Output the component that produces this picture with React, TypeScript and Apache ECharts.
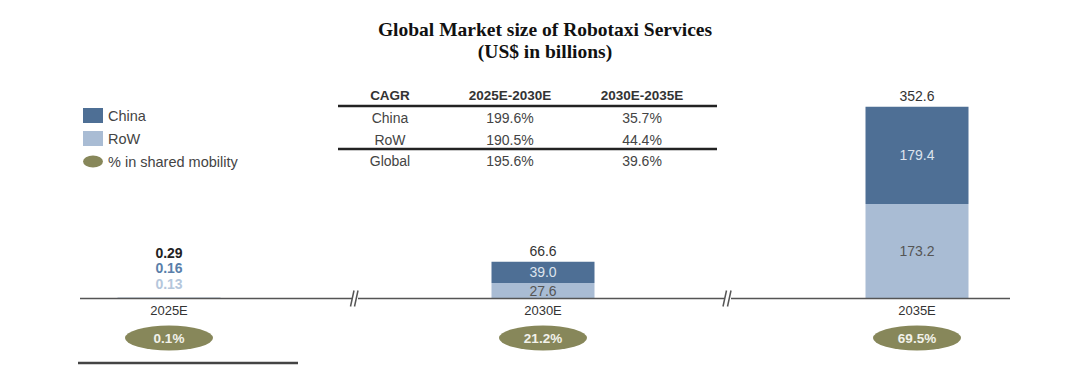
import React, { useEffect, useRef } from "react";
import * as echarts from "echarts";

const categories = ["2025E", "2030E", "2035E"];
const rowValues = [0.13, 27.6, 173.2];
const chinaValues = [0.16, 39.0, 179.4];
const totals = [0.29, 66.6, 352.6];
const sharedMobility = ["0.1%", "21.2%", "69.5%"];

const cagrHeader = ["CAGR", "2025E-2030E", "2030E-2035E"];
const cagrRows = [
  ["China", "199.6%", "35.7%"],
  ["RoW", "190.5%", "44.4%"],
  ["Global", "195.6%", "39.6%"],
];

const CHINA = "#4e6f95";
const ROW = "#a9bcd4";
const OLIVE = "#87875a";
const FONT = "'Liberation Sans', Arial, sans-serif";
const ELLIPSE = "path://M-44,0a44,12.5 0 1,0 88,0a44,12.5 0 1,0 -88,0z";
const LEGEND_ELLIPSE = "path://M-10,0a10,6 0 1,0 20,0a10,6 0 1,0 -20,0z";

export default function App() {
  const ref = useRef<HTMLDivElement>(null);
  useEffect(() => {
    if (!ref.current) return;
    const chart = echarts.init(ref.current, null, { renderer: "svg" });

    const colX = [390, 510, 642];
    const rowY = [118, 140, 161];
    const tableTexts: any[] = [];
    cagrHeader.forEach((h, i) =>
      tableTexts.push({
        type: "text",
        x: colX[i],
        y: 95,
        style: { text: h, fontSize: 13.5, fontWeight: "bold", fontFamily: FONT, fill: "#333", align: "center", verticalAlign: "middle" },
      })
    );
    cagrRows.forEach((r, ri) =>
      r.forEach((c, ci) =>
        tableTexts.push({
          type: "text",
          x: colX[ci],
          y: rowY[ri],
          style: { text: c, fontSize: 14, fontFamily: FONT, fill: "#444", align: "center", verticalAlign: "middle" },
        })
      )
    );

    const lineStyle = { stroke: "#555", lineWidth: 1.5 };
    const baseY = 298.5;
    const breakLines: any[] = [];
    [[80, 352], [358, 725], [731, 1010]].forEach(([a, b]) =>
      breakLines.push({ type: "line", shape: { x1: a, y1: baseY, x2: b, y2: baseY }, style: lineStyle, z: 10 })
    );
    [350.5, 354.5, 723, 727.5].forEach((x) =>
      breakLines.push({ type: "line", shape: { x1: x, y1: baseY + 8, x2: x + 3.5, y2: baseY - 8 }, style: lineStyle, z: 10 })
    );

    chart.setOption({
      animation: false,
      title: {
        text: "Global Market size of Robotaxi Services\n(US$ in billions)",
        left: 540,
        top: 13,
        textAlign: "center",
        textStyle: { fontFamily: "'Liberation Serif', 'Times New Roman', serif", fontWeight: "bold", fontSize: 19.5, lineHeight: 22, color: "#111" },
      },
      legend: {
        orient: "vertical",
        left: 78,
        top: 103,
        itemWidth: 20,
        itemHeight: 15,
        itemGap: 8,
        selectedMode: false,
        textStyle: { fontFamily: FONT, fontSize: 14.5, color: "#444" },
        data: [
          { name: "China", icon: "rect" },
          { name: "RoW", icon: "rect" },
          { name: "% in shared mobility", icon: LEGEND_ELLIPSE },
        ],
      },
      grid: [
        { left: -18, right: -24, top: 81, bottom: 80, outerBoundsMode: "none" },
        { left: -18, right: -24, top: 325, height: 26, outerBoundsMode: "none" },
      ],
      xAxis: [
        {
          type: "category",
          data: categories,
          gridIndex: 0,
          axisLine: { show: false },
          axisTick: { show: false },
          axisLabel: { margin: 6, fontFamily: FONT, fontSize: 13, color: "#333" },
        },
        { type: "category", data: categories, gridIndex: 1, show: false },
      ],
      yAxis: [
        { type: "value", min: 0, max: 400, gridIndex: 0, show: false, splitLine: { show: false } },
        { type: "category", data: ["share"], gridIndex: 1, show: false },
      ],
      series: [
        {
          name: "RoW",
          type: "bar",
          stack: "a",
          barWidth: 103,
          itemStyle: { color: ROW },
          label: { show: true, position: "inside", fontFamily: FONT, fontSize: 14, color: "#555", formatter: (p: any) => rowValues[p.dataIndex].toFixed(1) },
          data: rowValues.map((v, i) =>
            i === 0
              ? { value: v, label: { position: "top", distance: 7, color: "#b5c7dc", fontWeight: "bold", formatter: () => v.toFixed(2) } }
              : v
          ),
        },
        {
          name: "China",
          type: "bar",
          stack: "a",
          barWidth: 103,
          itemStyle: { color: CHINA },
          label: { show: true, position: "inside", fontFamily: FONT, fontSize: 14, color: "#dde4ed", formatter: (p: any) => chinaValues[p.dataIndex].toFixed(1) },
          data: chinaValues.map((v, i) =>
            i === 0
              ? { value: v, label: { position: "top", distance: 23, color: "#5a7faa", fontWeight: "bold", formatter: () => v.toFixed(2) } }
              : v
          ),
        },
        {
          name: "Total",
          type: "bar",
          stack: "a",
          barWidth: 103,
          itemStyle: { color: "transparent" },
          label: { show: true, position: "top", distance: 4, fontFamily: FONT, fontSize: 14, color: "#333", formatter: (p: any) => totals[p.dataIndex].toFixed(1) },
          data: totals.map((t, i) =>
            i === 0
              ? { value: 0, label: { distance: 38, color: "#222", fontWeight: "bold", formatter: () => t.toFixed(2) } }
              : 0
          ),
        },
        {
          name: "% in shared mobility",
          type: "scatter",
          xAxisIndex: 1,
          yAxisIndex: 1,
          symbol: ELLIPSE,
          symbolSize: [88, 25],
          itemStyle: { color: OLIVE, opacity: 1 },
          label: { show: true, position: "inside", fontFamily: FONT, fontSize: 13.5, fontWeight: "bold", color: "#f2f2ea", formatter: (p: any) => sharedMobility[p.dataIndex] },
          data: categories.map((c) => [c, "share"]),
        },
      ],
      graphic: [
        ...tableTexts,
        { type: "line", shape: { x1: 338, y1: 106, x2: 717, y2: 106 }, style: { stroke: "#222", lineWidth: 2.5 } },
        { type: "line", shape: { x1: 338, y1: 149, x2: 717, y2: 149 }, style: { stroke: "#222", lineWidth: 2.5 } },
        ...breakLines,
        { type: "line", shape: { x1: 78, y1: 363, x2: 298, y2: 363 }, style: { stroke: "#444", lineWidth: 2.5 } },
      ],
    });
    return () => chart.dispose();
  }, []);
  return <div ref={ref} style={{ width: 1080, height: 378, position: "absolute", left: 0, top: 0 }} />;
}
